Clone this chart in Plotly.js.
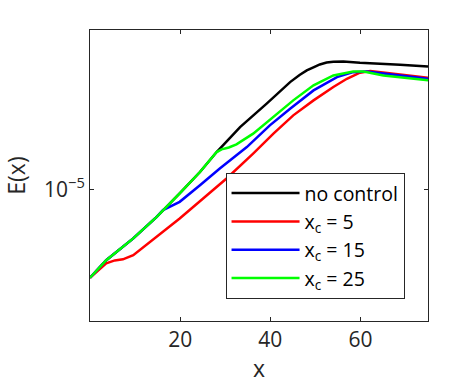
<!DOCTYPE html>
<html>
<head>
<meta charset="utf-8">
<script src="https://cdn.plot.ly/plotly-3.0.1.min.js"></script>
<style>
  html, body { margin: 0; padding: 0; background: #fff; }
  #chart { width: 472px; height: 384px; }
</style>
</head>
<body>
<div id="chart"></div>
<script>
// energy E(x) along x
var xNoControl = [0, 3.6, 9.6, 14.8, 19.9, 24.4, 28.1, 33.3, 39.2, 44.4, 46.5, 48.1, 49.7, 51.0, 52.5, 54.0, 56.2, 59.9, 68.8, 75];
var eNoControl = [4.97e-6, 5.71e-6, 6.79e-6, 8.05e-6, 9.69e-6, 1.149e-5, 1.346e-5, 1.64e-5, 1.975e-5, 2.343e-5, 2.48e-5, 2.57e-5, 2.64e-5, 2.695e-5, 2.735e-5, 2.754e-5, 2.756e-5, 2.73e-5, 2.69e-5, 2.65e-5];

var xC5 = [0, 3.6, 5.5, 7.3, 9.6, 14.8, 19.9, 25.1, 30.3, 36.2, 40.7, 45.1, 49.6, 54.0, 57.0, 59.9, 62.2, 75];
var eC5 = [4.97e-6, 5.57e-6, 5.7e-6, 5.75e-6, 5.94e-6, 6.87e-6, 7.95e-6, 9.31e-6, 1.091e-5, 1.33e-5, 1.557e-5, 1.8e-5, 2.027e-5, 2.253e-5, 2.405e-5, 2.524e-5, 2.557e-5, 2.425e-5];

var xC15 = [0, 3.6, 9.6, 14.8, 16.2, 18.0, 19.9, 24.4, 28.8, 34.8, 39.9, 44.4, 49.6, 54.8, 58.4, 61.4, 75];
var eC15 = [4.97e-6, 5.71e-6, 6.79e-6, 8.05e-6, 8.5e-6, 8.8e-6, 9.07e-6, 1.035e-5, 1.181e-5, 1.4e-5, 1.663e-5, 1.898e-5, 2.194e-5, 2.436e-5, 2.535e-5, 2.55e-5, 2.405e-5];

var xC25 = [0, 3.6, 9.6, 14.8, 19.9, 24.4, 28.1, 29.2, 30.8, 32.5, 36.2, 40.7, 45.1, 49.6, 54.0, 58.4, 60.7, 65.1, 75];
var eC25 = [4.97e-6, 5.71e-6, 6.79e-6, 8.05e-6, 9.69e-6, 1.149e-5, 1.346e-5, 1.375e-5, 1.395e-5, 1.43e-5, 1.557e-5, 1.776e-5, 2.027e-5, 2.283e-5, 2.47e-5, 2.55e-5, 2.55e-5, 2.47e-5, 2.375e-5];

var xTicks = [20, 40, 60];
var yTicks = [1e-5];
var yTickText = ['10<sup>\u22125</sup>'];

var FONT = 'Open Sans';

function line(x, y, name, color) {
    return {
        x: x,
        y: y,
        name: name,
        type: 'scatter',
        mode: 'lines',
        line: { color: color, width: 2.5 },
    };
}

var data = [
    line(xNoControl, eNoControl, 'no control', '#000000'),
    line(xC5, eC5, 'x<sub>c</sub> = 5', '#ff0000'),
    line(xC15, eC15, 'x<sub>c</sub> = 15', '#0000ff'),
    line(xC25, eC25, 'x<sub>c</sub> = 25', '#00ff00'),
];

var axisStyle = {
    showline: true,
    mirror: 'ticks',
    linecolor: '#262626',
    linewidth: 1,
    ticks: 'inside',
    ticklen: 4,
    tickcolor: '#262626',
    showgrid: false,
    zeroline: false,
    tickfont: { family: FONT, size: 21, color: '#262626' },
};

var layout = {
    width: 472,
    height: 384,
    margin: { l: 90, r: 44, t: 29.5, b: 63 },
    paper_bgcolor: '#ffffff',
    plot_bgcolor: '#ffffff',
    font: { family: FONT, size: 20, color: '#262626' },
    showlegend: true,
    legend: {
        x: 0.401,
        y: 0.509,
        xanchor: 'left',
        yanchor: 'top',
        bgcolor: '#ffffff',
        bordercolor: '#262626',
        borderwidth: 1,
        font: { family: FONT, size: 19.5, color: '#000000' },
        tracegroupgap: 0,
        itemwidth: 68,
    },
    xaxis: Object.assign({}, axisStyle, {
        range: [0, 75],
        tickvals: xTicks,
        title: { text: 'x', font: { family: FONT, size: 23, color: '#262626' }, standoff: 4 },
    }),
    yaxis: Object.assign({}, axisStyle, {
        type: 'log',
        range: [-5.4526, -4.4509],
        tickvals: yTicks,
        ticktext: yTickText,
        title: { text: 'E(x)', font: { family: FONT, size: 23, color: '#262626' }, standoff: 12 },
    }),
};

Plotly.newPlot(document.getElementById('chart'), data, layout, { displayModeBar: false, staticPlot: true });
</script>
</body>
</html>
